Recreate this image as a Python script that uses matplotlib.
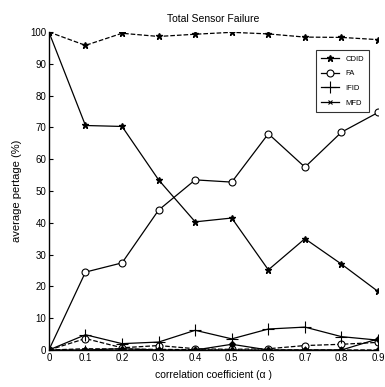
import matplotlib
matplotlib.use("Agg")
import matplotlib.pyplot as plt

plt.rcParams['font.family'] = ['Liberation Sans', 'DejaVu Sans']

alpha = [0, 0.1, 0.2, 0.3, 0.4, 0.5, 0.6, 0.7, 0.8, 0.9]
xtick_labels = ["0", "0.1", "0.2", "0.3", "0.4", "0.5", "0.6", "0.7", "0.8", "0.9"]
yticks = [0, 10, 20, 30, 40, 50, 60, 70, 80, 90, 100]

cdid_solid = [100, 70.6, 70.3, 53.5, 40.3, 41.5, 25.2, 35.0, 27.0, 18.4]
cdid_dashed = [100, 95.8, 99.6, 98.6, 99.3, 99.9, 99.4, 98.4, 98.3, 97.6]
fa_solid = [0, 24.5, 27.4, 44.0, 53.5, 52.8, 68.0, 57.5, 68.5, 74.7]
fa_dashed = [0, 3.6, 0.7, 1.4, 0.4, 0.2, 0.4, 1.4, 1.8, 2.4]
ifid_solid = [0, 4.8, 2.0, 2.5, 6.2, 3.5, 6.6, 7.2, 4.2, 3.1]
ifid_dashed = [0, 0.4, 0.3, 0.2, 0.1, 0, 0, 0, 0, 0]
mfd_solid = [0, 0, 0.4, 0, 0, 1.8, 0, 0, 0, 3.5]
mfd_dashed = [0, 0, 0, 0, 0, 0, 0, 0, 0, 0]

fig = plt.figure(figsize=(3.85, 3.87), dpi=100)
ax = fig.add_axes([0.127, 0.0956, 0.855, 0.8217])

k = dict(color='black', lw=0.9)
ax.plot(alpha, cdid_dashed, ls='--', marker='*', ms=5, **k)
ax.plot(alpha, cdid_solid, ls='-', marker='*', ms=5, label='CDID', **k)
ax.plot(alpha, fa_solid, ls='-', marker='o', ms=5, mfc='white', mew=0.8, label='FA', **k)
ax.plot(alpha, fa_dashed, ls='--', marker='o', ms=5, mfc='white', mew=0.8, **k)
ax.plot(alpha, ifid_solid, ls='-', marker='+', ms=8, mew=0.8, label='IFID', **k)
ax.plot(alpha, ifid_dashed, ls='--', marker='+', ms=6, mew=0.8, **k)
ax.plot(alpha, mfd_solid, ls='-', marker='D', ms=3, label='_nolegend_', **k)
ax.plot(alpha, mfd_dashed, ls='--', marker='D', ms=3, **k)
ax.plot([], [], ls='-', marker='x', ms=3, mew=0.8, label='MFD', **k)

ax.set_xlim(0, 0.9)
ax.set_ylim(0, 100)
ax.set_xticks(alpha)
ax.set_xticklabels(xtick_labels)
ax.set_yticks(yticks)
for s in ['top', 'right']:
    ax.spines[s].set_visible(False)
for s in ['left', 'bottom']:
    ax.spines[s].set_linewidth(1.0)
ax.tick_params(direction='in', length=3, labelsize=7, pad=2)
for sp in ax.spines.values():
    sp.set_clip_on(False)

ax.set_title("Total Sensor Failure", fontsize=7.5, pad=7)
ax.set_xlabel("correlation coefficient (α )", fontsize=7.5, labelpad=5)
ax.set_ylabel("average pertage (%)", fontsize=8, labelpad=6)

leg = ax.legend(loc='upper right', bbox_to_anchor=(0.985, 0.955), fontsize=5.5,
                frameon=True, fancybox=False, edgecolor='black',
                handlelength=2.4, borderpad=0.7, labelspacing=0.95)
leg.get_frame().set_linewidth(0.8)

fig.savefig("out.png", dpi=100)
